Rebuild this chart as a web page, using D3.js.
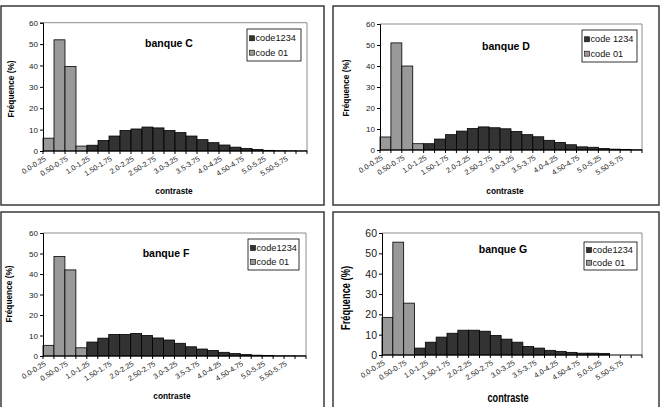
<!DOCTYPE html>
<html>
<head>
<meta charset="utf-8">
<script src="https://cdn.jsdelivr.net/npm/d3@7"></script>
<style>
  body { margin: 0; background: #fff; }
  svg { font-family: "Liberation Sans", Arial, sans-serif; }
</style>
</head>
<body>
<div id="chart"></div>
<script>
// bins of contraste (0.25 wide), only every other label is shown
const bins = ["0.0-0.25","0.25-0.50","0.50-0.75","0.75-1.0","1.0-1.25","1.25-1.50",
  "1.50-1.75","1.75-2.0","2.0-2.25","2.25-2.50","2.50-2.75","2.75-3.0","3.0-3.25",
  "3.25-3.5","3.5-3.75","3.75-4.0","4.0-4.25","4.25-4.50","4.50-4.75","4.75-5.0",
  "5.0-5.25","5.25-5.50","5.50-5.75","5.75-6.0"];
const yTicks = [0, 10, 20, 30, 40, 50, 60];
const banks = ["banque C", "banque D", "banque F", "banque G"];
const darkNames = ["code1234", "code 1234", "code1234", "code1234"];

// Fréquence (%) per bin, null = no bar
const code01C = [6, 52, 39.5, 2.3];
const code1234C = [null, null, null, null, 2.7, 4.9, 7, 9.6, 10.3, 11.2, 10.8, 9.6, 8.6, 7, 5.3, 3.9, 2.8, 1.8, 1.2, 0.7, 0.3, 0.15, 0.1, 0.05];
const code01D = [6.2, 51, 40, 3];
const code1234D = [null, null, null, null, 3, 5.2, 7.3, 9, 10.2, 11, 10.6, 10.1, 8.8, 7.3, 6.3, 4.6, 3.6, 2.5, 1.5, 1.3, 0.7, 0.4, 0.3, 0.1];
const code01F = [5.2, 48.5, 42, 4];
const code1234F = [null, null, null, null, 6.8, 8.7, 10.5, 10.5, 11, 10, 8.8, 7.8, 6.2, 4.5, 3.4, 2.7, 1.8, 1.2, 0.7, 0.4, 0.2, 0.1, 0.1, 0.05];
const code01G = [18.5, 55.5, 25.5];
const code1234G = [null, null, null, 3.4, 6.3, 8.8, 10.7, 12.2, 12.2, 11.7, 9.6, 7.8, 6.3, 4.2, 3.4, 2.3, 1.8, 1.3, 0.9, 0.9, 0.8, null, null, null];

const gray = [code01C, code01D, code01F, code01G];
const dark = [code1234C, code1234D, code1234F, code1234G];

// layout of each panel (pixels); ylen/xlen squeeze the G panel text like the source
const layout = [
  { box: [1, 6, 323, 199], plot: [43, 22.7, 307, 151], legend: [247, 29, 54, 32], title: [169, 46.5],
    ylab: [11, 89], xlab: [174, 194], yfont: 8, axfont: 8.3 },
  { box: [333, 6, 326, 199], plot: [380, 24, 642, 150], legend: [582, 30, 55, 32], title: [506, 50],
    ylab: [346, 88], xlab: [505, 194], yfont: 8, axfont: 8.3 },
  { box: [1, 212, 323, 200], plot: [43, 233, 306, 356], legend: [248, 239, 51, 31], title: [166, 257],
    ylab: [9, 294], xlab: [172, 399], yfont: 8, axfont: 8.3 },
  { box: [333, 212, 326, 200], plot: [382, 233, 642, 355], legend: [584, 242, 53, 28], title: [503, 253],
    ylab: [346, 298], xlab: [508, 402], yfont: 10.5, axfont: 12, ylen: 64, xlen: 41 }
];

const svg = d3.select("#chart").append("svg")
  .attr("width", 665)
  .attr("height", 407);

layout.forEach((L, i) => {
  const g = svg.append("g");
  const [x0, y0, x1, y1] = L.plot;

  g.append("rect")
    .attr("x", L.box[0]).attr("y", L.box[1])
    .attr("width", L.box[2]).attr("height", L.box[3])
    .attr("fill", "#fff").attr("stroke", "#3a3a3a").attr("stroke-width", 1.5);

  const x = d3.scaleBand().domain(bins).range([x0, x1]).padding(0);
  const y = d3.scaleLinear().domain([0, 60]).range([y1, y0]);

  // plot frame (top / right in gray)
  g.append("path")
    .attr("d", `M${x0},${y0}H${x1}V${y1}`)
    .attr("fill", "none").attr("stroke", "#8c8c8c").attr("stroke-width", 1);

  const drawBars = (vals, fill) => {
    g.append("g").selectAll("rect")
      .data(vals.map((v, k) => ({ v, k })).filter(d => d.v != null))
      .enter().append("rect")
      .attr("x", d => x(bins[d.k]))
      .attr("width", x.bandwidth())
      .attr("y", d => y(d.v))
      .attr("height", d => y(0) - y(d.v))
      .attr("fill", fill)
      .attr("stroke", "#000").attr("stroke-width", 0.8);
  };
  drawBars(gray[i], "#999999");
  drawBars(dark[i], "#333333");

  // y axis
  const ya = g.append("g").attr("transform", `translate(${x0},0)`)
    .call(d3.axisLeft(y).tickValues(yTicks).tickSize(3).tickPadding(2).tickFormat(d3.format("d")));
  ya.select(".domain").attr("stroke", "#000");
  ya.selectAll("text").attr("font-size", L.yfont).attr("fill", "#222");

  // x axis: ticks on bin edges
  const edges = bins.map(b => x(b)).concat([x1]);
  const xa = g.append("g");
  xa.append("line").attr("x1", x0).attr("x2", x1).attr("y1", y1).attr("y2", y1)
    .attr("stroke", "#000");
  xa.selectAll("line.t").data(edges).enter().append("line")
    .attr("class", "t")
    .attr("x1", d => d).attr("x2", d => d)
    .attr("y1", y1).attr("y2", y1 + 3)
    .attr("stroke", "#000");
  xa.selectAll("text").data(bins.filter((b, k) => k % 2 === 0)).enter().append("text")
    .attr("transform", d => `translate(${x(d) + x.bandwidth() / 2 - 2},${y1 + 9}) rotate(-32)`)
    .attr("text-anchor", "end")
    .attr("font-size", 7.3)
    .attr("fill", "#222")
    .text(d => d);

  // title
  g.append("text")
    .attr("x", L.title[0]).attr("y", L.title[1])
    .attr("text-anchor", "middle")
    .attr("font-weight", "bold").attr("font-size", 10.5)
    .text(banks[i]);

  // axis titles
  const yl = g.append("text")
    .attr("transform", `translate(${L.ylab[0] + L.axfont * 0.35},${L.ylab[1]}) rotate(-90)`)
    .attr("text-anchor", "middle")
    .attr("font-weight", "bold").attr("font-size", L.axfont)
    .text("Fréquence (%)");
  const xl = g.append("text")
    .attr("x", L.xlab[0]).attr("y", L.xlab[1])
    .attr("text-anchor", "middle")
    .attr("font-weight", "bold").attr("font-size", L.axfont)
    .text("contraste");
  if (L.ylen) {
    yl.attr("textLength", L.ylen).attr("lengthAdjust", "spacingAndGlyphs");
    xl.attr("textLength", L.xlen).attr("lengthAdjust", "spacingAndGlyphs");
  }

  // legend
  const [lx, ly, lw, lh] = L.legend;
  const lg = g.append("g");
  lg.append("rect").attr("x", lx).attr("y", ly).attr("width", lw).attr("height", lh)
    .attr("fill", "#fff").attr("stroke", "#000").attr("stroke-width", 0.8);
  const entries = [[darkNames[i], "#333333"], ["code 01", "#999999"]];
  entries.forEach(([name, col], k) => {
    const cy = ly + lh * (k === 0 ? 0.29 : 0.74);
    lg.append("rect").attr("x", lx + 2.5).attr("y", cy - 2.5).attr("width", 5).attr("height", 5)
      .attr("fill", col).attr("stroke", "#000").attr("stroke-width", 0.6);
    lg.append("text").attr("x", lx + 8.5).attr("y", cy + 3.2)
      .attr("font-size", 9.2).attr("fill", "#111")
      .text(name);
  });
});
</script>
</body>
</html>
